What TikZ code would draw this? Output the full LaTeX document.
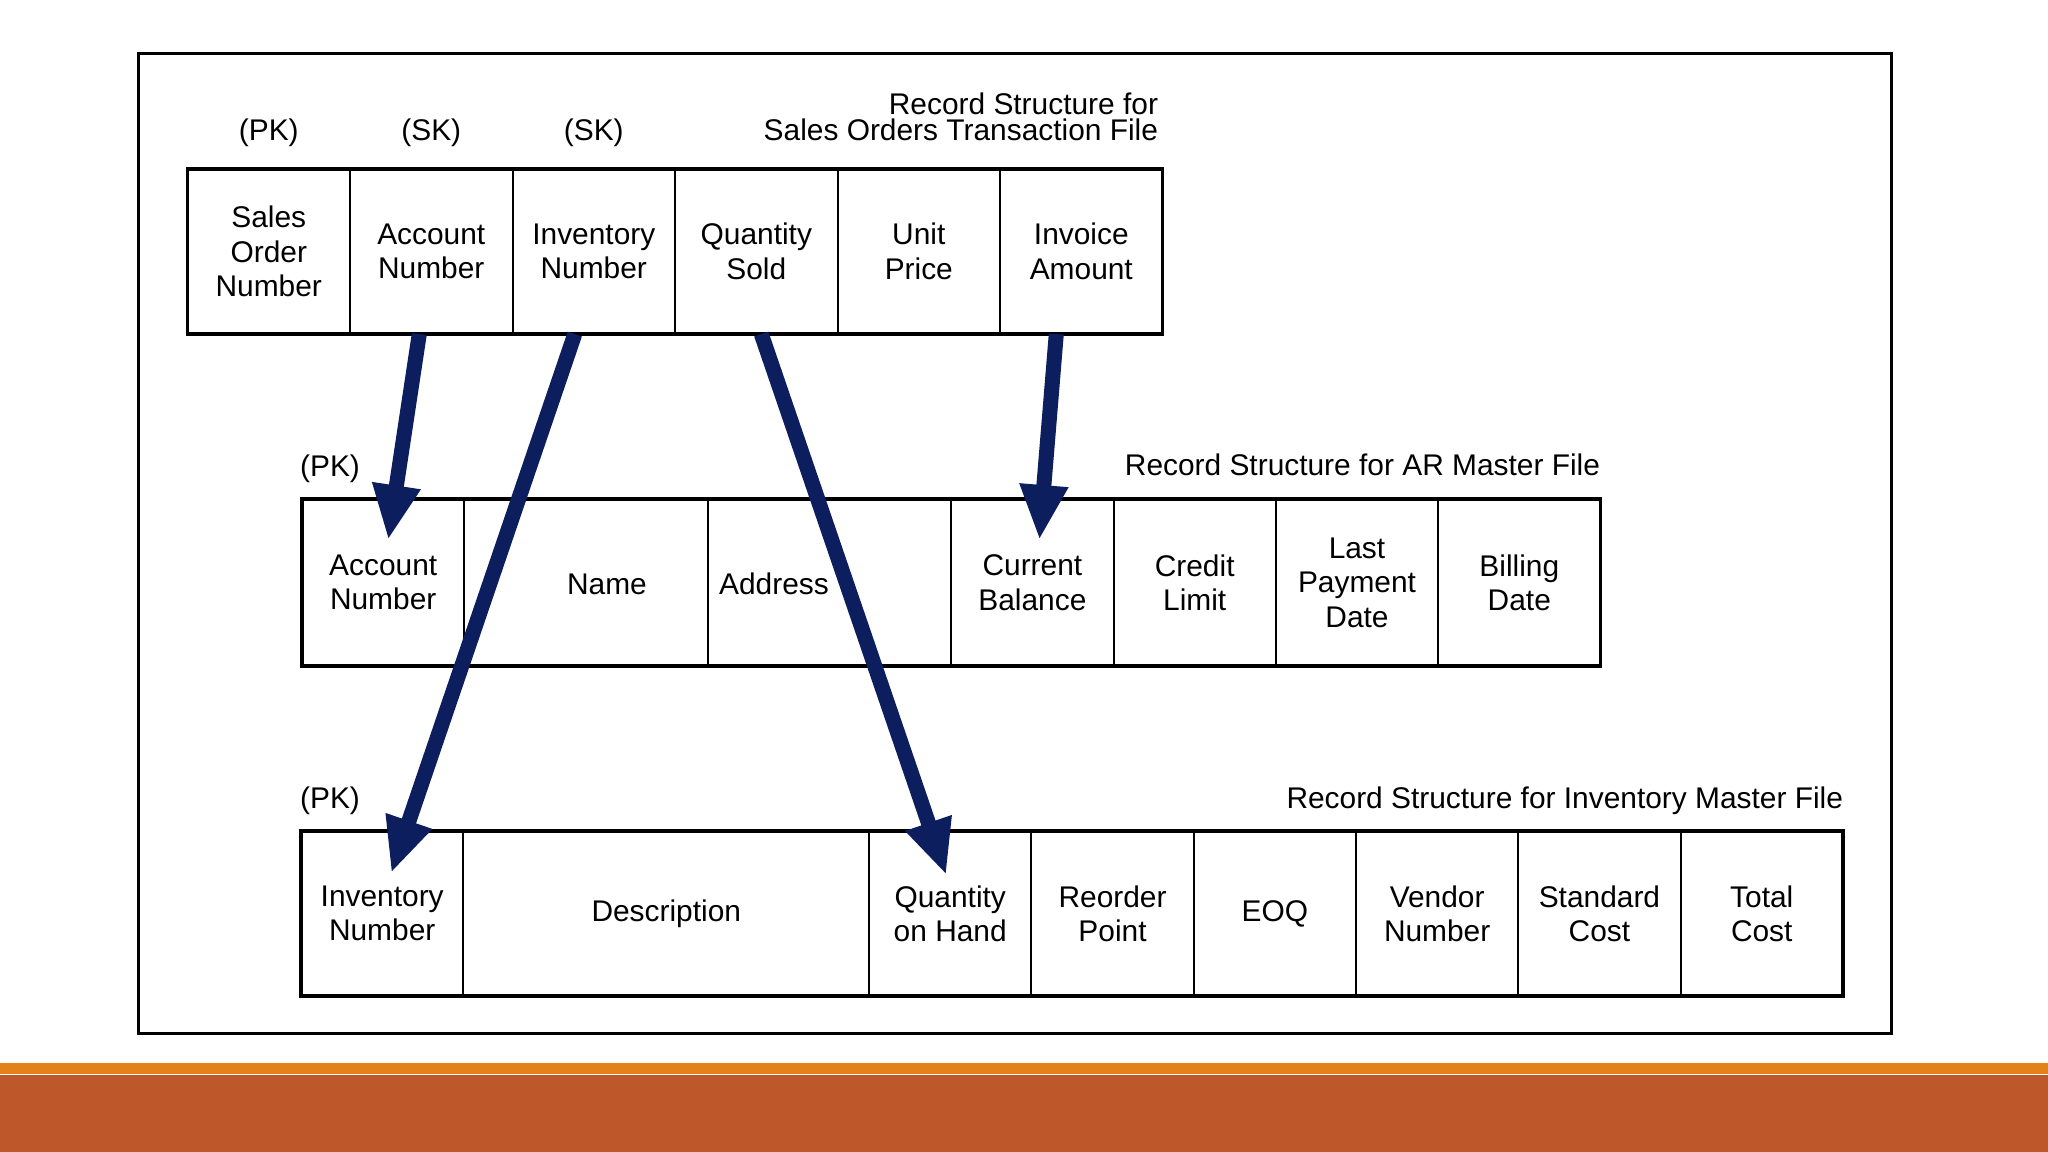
\documentclass[tikz,border=0pt]{standalone}
\usepackage{fontspec}
\setmainfont{Liberation Sans}
\usetikzlibrary{arrows.meta}
\definecolor{navy}{RGB}{12,30,94}
\definecolor{bandorange}{RGB}{227,130,22}
\definecolor{bandbrown}{RGB}{190,87,41}
\newcommand\cellfont{\fontsize{8.5pt}{9.8pt}\selectfont}
\newcommand\headfont{\fontsize{8.5pt}{7.4pt}\selectfont}
\begin{document}
\begin{tikzpicture}[x=0.01cm,y=-0.01cm,
  cell/.style={draw=black, line width=0.02cm, anchor=north west, inner sep=0pt, outer sep=0pt, align=center, font=\cellfont},
  lbl/.style={inner sep=0pt, outer sep=0pt, font=\cellfont},
  link/.style={draw=navy, line width=0.15cm, -{Triangle[length=0.55cm,width=0.45cm]}},
  tableframe/.style={draw=black, line width=0.035cm},
  outerframe/.style={draw=black, line width=0.03cm}]
\useasboundingbox (0,0) rectangle (2048,1152);
\fill[white] (0,0) rectangle (2048,1152);
\fill[bandorange] (0,1063) rectangle (2048,1074);
\fill[bandbrown] (0,1075) rectangle (2048,1152);
\draw[outerframe] (138,54) rectangle (1891,1033);

% ---------- Sales Orders Transaction File ----------
\node[lbl, anchor=north east, align=right, font=\headfont] (h1) at (1158,93) {Record Structure for\\Sales Orders Transaction File};
\node[lbl, anchor=base] (k1) at (268.75,141) {(PK)};
\node[lbl, anchor=base] (k2) at (431.25,141) {(SK)};
\node[lbl, anchor=base] (k3) at (593.75,141) {(SK)};
\node[cell, minimum width=1.625cm, minimum height=1.65cm] (s1) at (187.5,169) {Sales\\Order\\Number};
\node[cell, minimum width=1.625cm, minimum height=1.65cm] (s2) at (350,169) {Account\\Number};
\node[cell, minimum width=1.625cm, minimum height=1.65cm] (s3) at (512.5,169) {Inventory\\Number};
\node[cell, minimum width=1.625cm, minimum height=1.65cm] (s4) at (675,169) {Quantity\\Sold};
\node[cell, minimum width=1.625cm, minimum height=1.65cm] (s5) at (837.5,169) {Unit\\Price};
\node[cell, minimum width=1.625cm, minimum height=1.65cm] (s6) at (1000,169) {Invoice\\Amount};
\draw[tableframe] (s1.north west) rectangle (s6.south east);

% ---------- AR Master File ----------
\node[lbl, anchor=base east] (h2) at (1600,476) {Record Structure for AR Master File};
\node[lbl, anchor=base] (k4) at (330,477) {(PK)};
\node[cell, minimum width=1.623cm, minimum height=1.67cm] (m1) at (302,499) {Account\\Number};
\node[cell, minimum width=2.4345cm, minimum height=1.67cm] (m2) at (464.3,499) {};
\node[cell, minimum width=2.4345cm, minimum height=1.67cm] (m3) at (707.75,499) {};
\node[cell, minimum width=1.623cm, minimum height=1.67cm] (m4) at (951.2,499) {Current\\Balance};
\node[cell, minimum width=1.623cm, minimum height=1.67cm] (m5) at (1113.5,499) {Credit\\Limit};
\node[cell, minimum width=1.623cm, minimum height=1.67cm] (m6) at (1275.8,499) {Last\\Payment\\Date};
\node[cell, minimum width=1.623cm, minimum height=1.67cm] (m7) at (1438.1,499) {Billing\\Date};
\node[lbl] (t2) at (607,584) {Name};
\node[lbl] (t3) at (774,584) {Address};
\draw[tableframe] (m1.north west) rectangle (m7.south east);

% ---------- Inventory Master File ----------
\node[lbl, anchor=base east] (h3) at (1843,808) {Record Structure for Inventory Master File};
\node[lbl, anchor=base] (k5) at (330,808) {(PK)};
\node[cell, minimum width=1.623cm, minimum height=1.65cm] (b1) at (301,831) {Inventory\\Number};
\node[cell, minimum width=4.0575cm, minimum height=1.65cm] (b2) at (463.3,831) {Description};
\node[cell, minimum width=1.623cm, minimum height=1.65cm] (b3) at (869.05,831) {Quantity\\on Hand};
\node[cell, minimum width=1.623cm, minimum height=1.65cm] (b4) at (1031.35,831) {Reorder\\Point};
\node[cell, minimum width=1.623cm, minimum height=1.65cm] (b5) at (1193.65,831) {EOQ};
\node[cell, minimum width=1.623cm, minimum height=1.65cm] (b6) at (1355.95,831) {Vendor\\Number};
\node[cell, minimum width=1.623cm, minimum height=1.65cm] (b7) at (1518.25,831) {Standard\\Cost};
\node[cell, minimum width=1.623cm, minimum height=1.65cm] (b8) at (1680.55,831) {Total\\Cost};
\draw[tableframe] (b1.north west) rectangle (b8.south east);

% ---------- links ----------
\draw[link] ([xshift=-0.12cm]s2.south) -- ([xshift=0.05cm,yshift=-0.41cm]m1.north);
\draw[link] ([xshift=-0.25cm]s6.south) -- ([xshift=0.07cm,yshift=-0.41cm]m4.north);
\draw[link] ([xshift=-0.19cm]s3.south) -- ([xshift=0.09cm,yshift=-0.42cm]b1.north);
\draw[link] ([xshift=0.05cm]s4.south) -- ([xshift=-0.04cm,yshift=-0.44cm]b3.north);
\end{tikzpicture}
\end{document}
